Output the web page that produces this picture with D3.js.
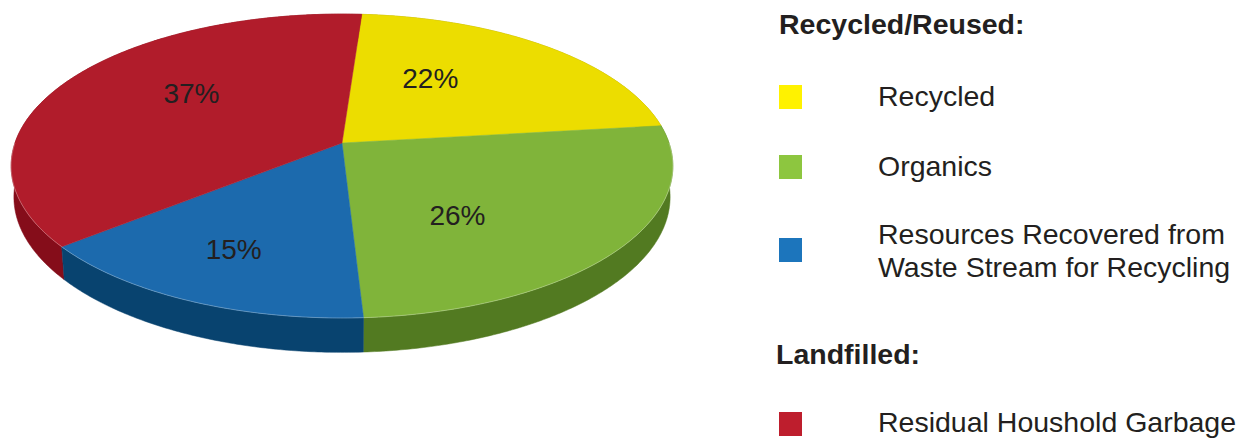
<!DOCTYPE html>
<html>
<head>
<meta charset="utf-8">
<script src="https://cdn.jsdelivr.net/npm/d3@7/dist/d3.min.js"></script>
<style>
  html, body { margin: 0; padding: 0; background: #ffffff; }
  svg { display: block; }
</style>
</head>
<body>
<svg id="chart" width="1243" height="439"></svg>
<script>
// ---- data ----
const categories = ["Recycled", "Organics", "Resources Recovered from Waste Stream for Recycling", "Residual Houshold Garbage"];
const values = [22, 26, 15, 37];
const valueLabels = ["22%", "26%", "15%", "37%"];
const legendGroups = ["Recycled/Reused:", "Landfilled:"];
const legendLines = [["Recycled"], ["Organics"], ["Resources Recovered from", "Waste Stream for Recycling"], ["Residual Houshold Garbage"]];

// ---- styles / layout ----
const topColors = ["#ecdd00", "#80b43a", "#1c6aad", "#b11c2b"];
const wallColors = ["#a69b00", "#527a21", "#08436f", "#850d1a"];
const legendColors = ["#fff200", "#8dc63f", "#1c75bc", "#be1e2d"];
const labelFrac = [0.35, 0.65, 0.52, 0.565];  // position along each slice's arc
const labelRad = [0.55, 0.56, 0.71, 0.60];    // radius fraction for labels
const startOffset = 4 * Math.PI / 180;

const svg = d3.select("#chart");

// perspective projection of a unit disk lying in a horizontal plane
const cam = { cx: 342, cy: 143, F: 1923, D: 5.88, phi: 27 * Math.PI / 180, t: 0.106 };
const sinP = Math.sin(cam.phi), cosP = Math.cos(cam.phi);
function project(angle, r, h) {
  const X = r * Math.sin(angle), Z = r * Math.cos(angle);
  const depth = cam.D + Z * cosP - h * sinP;
  return [cam.cx + cam.F * X / depth, cam.cy - cam.F * (h * cosP + Z * sinP) / depth];
}

const pie = d3.pie().sort(null).value(d => d.value)
  .startAngle(startOffset).endAngle(startOffset + 2 * Math.PI);
const arcs = pie(values.map((v, i) => ({ value: v, i })));

const line = d3.line();
function arcPoints(a0, a1, r, h) {
  const n = Math.max(8, Math.ceil((a1 - a0) / 0.01));
  return d3.range(n + 1).map(k => project(a0 + (a1 - a0) * k / n, r, h));
}

// walls (far first)
const walls = arcs.map(a => {
  const top = arcPoints(a.startAngle, a.endAngle, 1, 0);
  const bot = arcPoints(a.startAngle, a.endAngle, 1, -cam.t).reverse();
  const midZ = Math.cos((a.startAngle + a.endAngle) / 2);
  return { a, pts: top.concat(bot), midZ };
}).sort((p, q) => q.midZ - p.midZ);

svg.append("g").selectAll("path").data(walls).join("path")
  .attr("d", d => line(d.pts) + "Z")
  .attr("fill", d => wallColors[d.a.data.i])
  .attr("stroke", d => wallColors[d.a.data.i])
  .attr("stroke-width", 0.5);

// top faces
svg.append("g").selectAll("path").data(arcs).join("path")
  .attr("d", a => line([project(0, 0, 0)].concat(arcPoints(a.startAngle, a.endAngle, 1, 0))) + "Z")
  .attr("fill", a => topColors[a.data.i])
  .attr("stroke", a => topColors[a.data.i])
  .attr("stroke-width", 0.5);

// subtle rim highlight on the near side
svg.append("path")
  .attr("d", line(arcPoints(Math.PI / 2, 3 * Math.PI / 2, 1, 0)))
  .attr("fill", "none")
  .attr("stroke", "rgba(255,255,255,0.35)")
  .attr("stroke-width", 0.8);

// value labels
svg.append("g").selectAll("text").data(arcs).join("text")
  .attr("transform", a => {
    const ang = a.startAngle + (a.endAngle - a.startAngle) * labelFrac[a.data.i];
    const p = project(ang, labelRad[a.data.i], 0);
    return `translate(${p[0]},${p[1]})`;
  })
  .attr("text-anchor", "middle")
  .attr("dy", "0.36em")
  .attr("font-family", "Liberation Sans, Arial, sans-serif")
  .attr("font-size", 28)
  .attr("fill", "#231f20")
  .text(a => valueLabels[a.data.i]);

// legend
const lg = svg.append("g").attr("font-family", "Liberation Sans, Arial, sans-serif").attr("fill", "#231f20");
const groupPos = [{ x: 779, y: 34 }, { x: 776, y: 364 }];
lg.selectAll("text.grp").data(legendGroups).join("text")
  .attr("class", "grp")
  .attr("x", (d, i) => groupPos[i].x)
  .attr("y", (d, i) => groupPos[i].y)
  .attr("font-size", 28.5)
  .attr("font-weight", "bold")
  .text(d => d);

const itemY = [97, 167, 250, 424]; // centre of swatch
const lineY0 = [9, 9, -6, 8];
const items = lg.selectAll("g.item").data(categories).join("g")
  .attr("class", "item")
  .attr("transform", (d, i) => `translate(779,${itemY[i]})`);
items.append("rect")
  .attr("x", 0).attr("y", -12).attr("width", 23).attr("height", 24)
  .attr("fill", (d, i) => legendColors[i]);
items.each(function (d, i) {
  const g = d3.select(this);
  legendLines[i].forEach((t, k) => {
    g.append("text")
      .attr("x", 99)
      .attr("y", lineY0[i] + k * 33)
      .attr("font-size", 28.5)
      .text(t);
  });
});
</script>
</body>
</html>
